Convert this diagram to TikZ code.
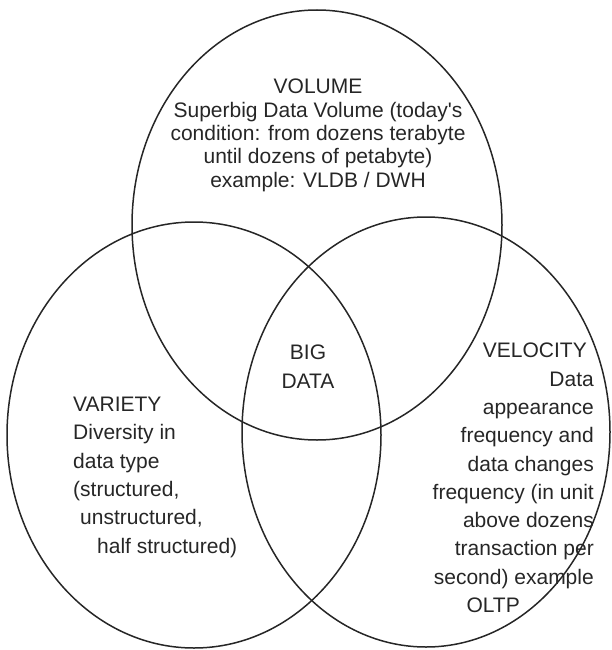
\documentclass[tikz,border=0pt]{standalone}
\usepackage{fontspec}
\newfontfamily\drawfont{Liberation Sans}
\begin{document}
\begin{tikzpicture}[x=1pt,y=-1pt, line join=round, line cap=round]
	\tikzset{every node/.style={inner sep=0pt, text=black!85, font=\drawfont\fontsize{21}{28.3}\selectfont}}
	\useasboundingbox (0,0) rectangle (611,650);
	\draw[line width=1.5pt, black!85] (317,225) ellipse (185 and 215);
	\draw[line width=1.5pt, black!85] (194,435) ellipse (187 and 213);
	\draw[line width=1.5pt, black!85] (426,432) ellipse (184 and 215);
	\node[align=center, anchor=north, font=\drawfont\fontsize{21}{23.3}\selectfont] (volume) at (318,79) {VOLUME\\Superbig Data Volume (today's\\condition: from dozens terabyte\\until dozens of petabyte)\\example: VLDB / DWH};
	\node[align=center, anchor=north] (bigdata) at (308,345) {BIG\\DATA};
	\node[align=left, anchor=north west] (variety) at (73,397) {VARIETY\\Diversity in\\data type\\(structured,\\\hspace*{7pt}unstructured,\\\hspace*{24pt}half structured)};
	\node[align=right, anchor=north east] (velocity) at (594,343) {VELOCITY\hspace*{7pt}\\Data\hspace*{7pt}\\appearance\hspace*{7pt}\\frequency and\hspace*{7pt}\\data changes\\frequency (in unit\\above dozens\hspace*{7pt}\\transaction per\hspace*{24pt}\\second) example\hspace*{42pt}\\OLTP\hspace*{74pt}};
\end{tikzpicture}
\end{document}
